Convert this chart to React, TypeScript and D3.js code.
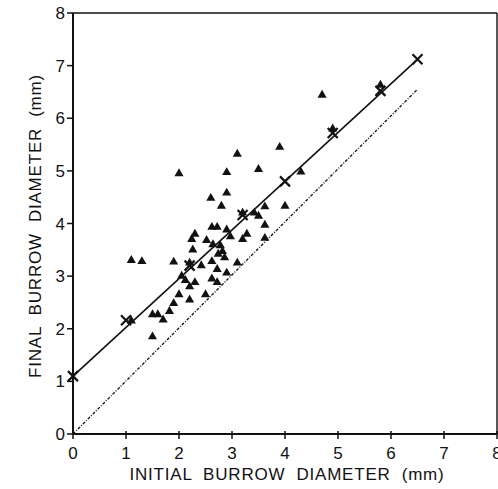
import React from 'react';
import { scaleLinear, line, symbol, symbolTriangle } from 'd3';

// measured burrows: initial vs final diameter (mm)
const initialDiameter = [
  1.1, 1.3, 1.9, 1.1, 1.5, 1.5, 1.6, 1.7, 1.82, 1.9, 2.0, 2.0, 2.05, 2.12, 2.2,
  2.2, 2.3, 2.2, 2.24, 2.3, 2.26, 2.42, 2.52, 2.5, 2.6, 2.62, 2.72, 2.64, 2.62,
  2.62, 2.72, 2.72, 2.74, 2.78, 2.8, 2.82, 2.86, 2.9, 2.9, 2.9, 2.9, 2.97, 3.1,
  3.1, 3.2, 3.2, 3.28, 3.42, 3.5, 3.5, 3.62, 3.62, 3.62, 3.9, 4.0, 4.3, 4.7,
  4.9, 5.8,
];
const finalDiameter = [
  3.3, 3.28, 3.27, 2.15, 1.85, 2.27, 2.27, 2.17, 2.33, 2.48, 2.65, 4.95, 3.0,
  2.92, 2.55, 2.8, 2.88, 3.25, 3.7, 3.8, 3.5, 3.2, 3.68, 2.65, 4.48, 3.93, 3.93,
  3.6, 3.28, 2.95, 2.88, 3.13, 3.42, 3.58, 4.33, 3.47, 3.35, 3.06, 3.88, 4.58,
  4.97, 3.75, 5.32, 3.25, 4.2, 3.7, 3.8, 4.2, 4.14, 5.03, 4.32, 3.97, 3.72,
  5.45, 4.33, 4.98, 6.44, 5.8, 6.63,
];

// points marked with X along the fitted line
const markX = [0, 1.0, 2.2, 3.2, 4.0, 4.9, 5.8, 6.5];
const markY = [1.1, 2.16, 3.2, 4.16, 4.8, 5.72, 6.52, 7.12];

// regression line and the 1:1 line
const fitX = [0, 6.5];
const fitY = [1.1, 7.12];
const equalX = [0, 6.5];
const equalY = [0, 6.55];

const xTicks = [0, 1, 2, 3, 4, 5, 6, 7, 8];
const yTicks = [0, 1, 2, 3, 4, 5, 6, 7, 8];

const xTitle = 'INITIAL  BURROW  DIAMETER  (mm)';
const yTitle = 'FINAL  BURROW  DIAMETER  (mm)';

const W = 498;
const H = 489;
const left = 73;
const right = 497;
const top = 13;
const bottom = 434;

function App() {
  const x = scaleLinear().domain([0, 8]).range([left, right]);
  const y = scaleLinear().domain([0, 8]).range([bottom, top]);

  const path = line<number>()
    .x((d) => x(d[0]))
    .y((d) => y(d[1]));

  const fitPts = fitX.map((v, i) => [v, fitY[i]]);
  const eqPts = equalX.map((v, i) => [v, equalY[i]]);
  const tri = symbol().type(symbolTriangle).size(36)();

  const font = 'Liberation Sans, Arial, Helvetica, sans-serif';

  return (
    <svg
      width={W}
      height={H}
      style={{ position: 'absolute', left: 0, top: 0, background: '#fff' }}
      fontFamily={font}
    >
      {/* frame */}
      <line x1={left} x2={right} y1={top} y2={top} stroke="#111" strokeWidth={1.4} />
      <line x1={right} x2={right} y1={top} y2={bottom} stroke="#111" strokeWidth={1.4} />
      <line x1={left} x2={left} y1={top} y2={bottom} stroke="#111" strokeWidth={2} />
      <line x1={left} x2={right} y1={bottom} y2={bottom} stroke="#111" strokeWidth={2} />

      {/* y axis */}
      {yTicks.map((t) => (
        <g key={'y' + t}>
          <line x1={left - 6} x2={left} y1={y(t)} y2={y(t)} stroke="#111" strokeWidth={1.5} />
          <text x={left - 8} y={y(t)} dy="0.36em" textAnchor="end" fontSize={17} fill="#111">
            {t}
          </text>
        </g>
      ))}

      {/* x axis */}
      {xTicks.map((t) => (
        <g key={'x' + t}>
          <line x1={x(t)} x2={x(t)} y1={bottom - 3} y2={bottom + 5} stroke="#111" strokeWidth={1.5} />
          <text x={x(t)} y={bottom + 25} textAnchor="middle" fontSize={17} fill="#111">
            {t}
          </text>
        </g>
      ))}

      <text
        x={287}
        y={480}
        textAnchor="middle"
        fontSize={17}
        letterSpacing={0.8}
        fill="#111"
        style={{ whiteSpace: 'pre' }}
      >
        {xTitle}
      </text>
      <text
        transform={`translate(41,226) rotate(-90)`}
        textAnchor="middle"
        fontSize={17}
        letterSpacing={0.8}
        fill="#111"
        style={{ whiteSpace: 'pre' }}
      >
        {yTitle}
      </text>

      {/* lines */}
      <path d={path(eqPts as any) || ''} fill="none" stroke="#111" strokeWidth={1.3} strokeDasharray="3 1.5 1 1.5" />
      <path d={path(fitPts as any) || ''} fill="none" stroke="#111" strokeWidth={1.6} />

      {/* triangles */}
      {initialDiameter.map((d, i) => (
        <path
          key={'t' + i}
          d={tri || ''}
          transform={`translate(${x(d)},${y(finalDiameter[i])})`}
          fill="#111"
        />
      ))}

      {/* X marks */}
      {markX.map((d, i) => {
        const cx = x(d);
        const cy = y(markY[i]);
        const s = 5;
        return (
          <g key={'m' + i} stroke="#111" strokeWidth={2.2}>
            <line x1={cx - s} x2={cx + s} y1={cy - s} y2={cy + s} />
            <line x1={cx - s} x2={cx + s} y1={cy + s} y2={cy - s} />
          </g>
        );
      })}
    </svg>
  );
}

export default App;
